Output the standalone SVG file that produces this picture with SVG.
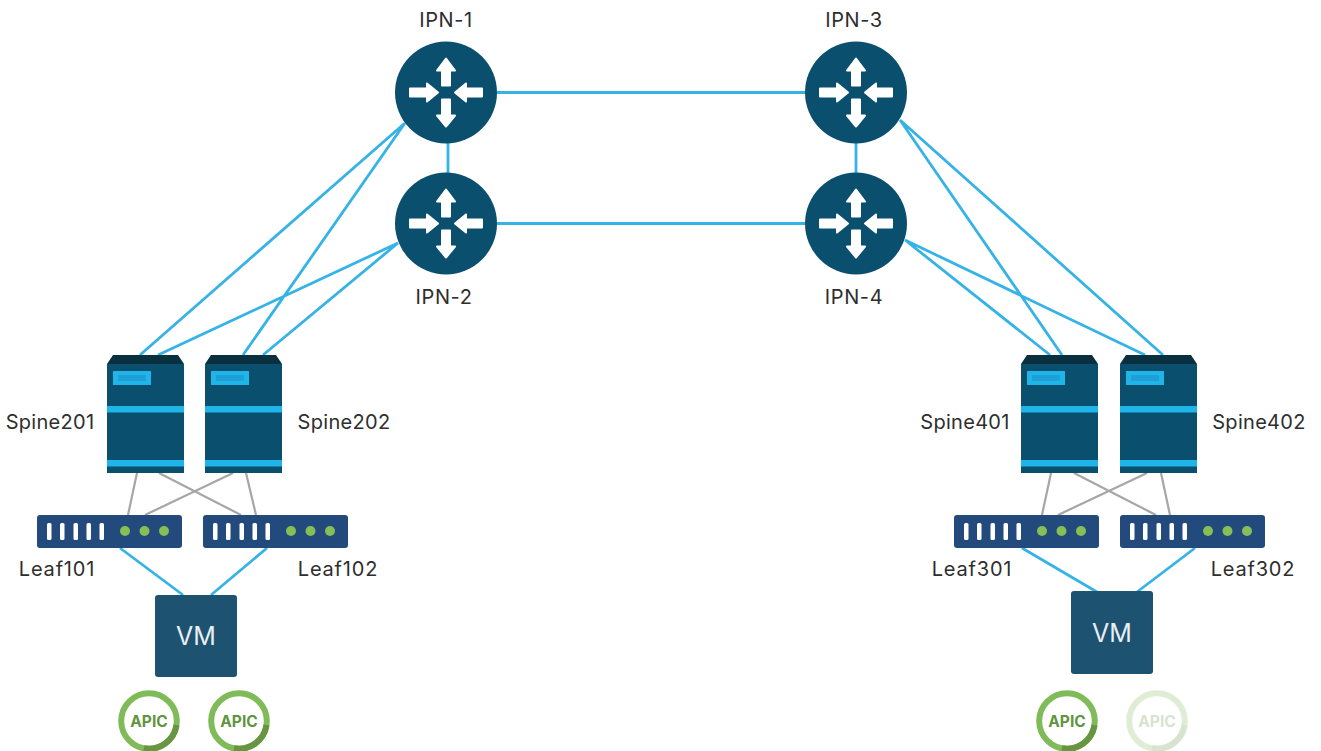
<svg xmlns="http://www.w3.org/2000/svg" width="1321" height="751" viewBox="0 0 1321 751">
<style>
text{font-family:"Inter","Liberation Sans",sans-serif;font-size:20px;fill:#2e2e2e;text-anchor:middle}
.ipn{letter-spacing:.6px}
.sp{letter-spacing:.3px}
.lf{letter-spacing:.8px}
.b{stroke:#36b3e6;stroke-width:2.8;fill:none}
.g{stroke:#a6a6a6;stroke-width:2.2;fill:none}
.vmt{fill:#e8eef2;font-size:25px}
.ap{font-size:15.500px;font-weight:700;fill:#5f9440}
.vm{fill:#1e5271}
.ar{fill:#fff;stroke:#fff;stroke-width:2;stroke-linejoin:round}
</style>
<defs>
<g id="router">
<circle r="51" fill="#0b4f6f"/>
<path class="ar" d="M-4 -7V-22H-9L0 -34L9 -22H4V-7Z"/>
<path class="ar" d="M-4 7V23H-9L0 34L9 23H4V7Z"/>
<path class="ar" d="M-36 -4H-19V-9L-8 0L-19 9V4H-36Z"/>
<path class="ar" d="M36 -4H20V-9L9 0L20 9V4H36Z"/>
</g>
<g id="spine">
<path d="M0 9L6 0H71L77 9Z" fill="#08303f"/>
<rect y="9" width="77" height="109" fill="#0b4f6f"/>
<rect x="6" y="16" width="38" height="14" fill="#1fb5e8"/>
<rect x="11" y="20" width="28" height="6" fill="#1e9fd6"/>
<rect y="51" width="77" height="6.500" fill="#1fb5e8"/>
<rect y="105" width="77" height="6.500" fill="#1fb5e8"/>
</g>
<g id="leaf">
<rect width="145" height="33" rx="3" fill="#234a7d"/>
<g fill="#fff"><rect x="10" y="8" width="4.500" height="17" rx="1.500"/><rect x="23" y="8" width="4.500" height="17" rx="1.500"/><rect x="36.500" y="8" width="4.500" height="17" rx="1.500"/><rect x="49.500" y="8" width="4.500" height="17" rx="1.500"/><rect x="62.500" y="8" width="4.500" height="17" rx="1.500"/></g>
<g fill="#86bf55"><circle cx="88" cy="16" r="5"/><circle cx="107.500" cy="16" r="5"/><circle cx="127" cy="16" r="5"/></g>
</g>
<g id="apic">
<circle r="27.800" fill="#fff" stroke="#80bb59" stroke-width="6"/>
<path d="M27.500 4A27.800 27.800 0 0 1 -5 27.300" fill="none" stroke="#679542" stroke-width="6"/>
<text y="5.500" class="ap">APIC</text>
</g>
</defs>
<rect width="1321" height="751" fill="#fff"/>
<g id="connectors">
<path class="b" d="M446 92.500H856M446 223.500H856M448 92V223M856 92V223"/>
<path class="b" d="M405 123L140 355M405 123L243 355M398 243L158 355M398 243L263 355"/>
<path class="b" d="M900 120L1062 355M900 120L1163 355M905 240L1050 355M905 240L1145 355"/>
<path class="g" d="M137 473L128 515M159 473L241 515M233 473L145 515M246 473L256 515"/>
<path class="g" d="M1051 473L1042 515M1074 473L1156 515M1147 473L1058 515M1161 473L1170 515"/>
<path class="b" d="M120 548L183 595M267 548L211 595M1022 548L1097 592M1195 548L1137 592"/>
</g>
<g id="ipn-1"><use href="#router" x="446" y="92.500"/><text class="ipn" x="446" y="27">IPN-1</text></g>
<g id="ipn-2"><use href="#router" x="446" y="223.500"/><text class="ipn" x="444" y="304">IPN-2</text></g>
<g id="ipn-3"><use href="#router" x="856" y="92.500"/><text class="ipn" x="854" y="27">IPN-3</text></g>
<g id="ipn-4"><use href="#router" x="856" y="223.500"/><text class="ipn" x="854" y="304">IPN-4</text></g>
<g id="spine201"><use href="#spine" x="107" y="355"/><text class="sp" x="50" y="429">Spine201</text></g>
<g id="spine202"><use href="#spine" x="205" y="355"/><text class="sp" x="344" y="429">Spine202</text></g>
<g id="spine401"><use href="#spine" x="1021" y="355"/><text class="sp" x="965" y="429">Spine401</text></g>
<g id="spine402"><use href="#spine" x="1120" y="355"/><text class="sp" x="1259" y="429">Spine402</text></g>
<g id="leaf101"><use href="#leaf" x="37" y="515"/><text class="lf" x="57" y="576">Leaf101</text></g>
<g id="leaf102"><use href="#leaf" x="203" y="515"/><text class="lf" x="338" y="576">Leaf102</text></g>
<g id="leaf301"><use href="#leaf" x="954" y="515"/><text class="lf" x="972" y="576">Leaf301</text></g>
<g id="leaf302"><use href="#leaf" x="1120" y="515"/><text class="lf" x="1253" y="576">Leaf302</text></g>
<g id="vm-1"><rect class="vm" x="155" y="595" width="82" height="82" rx="3"/><text class="vmt" x="196" y="645">VM</text></g>
<g id="vm-2"><rect class="vm" x="1071" y="591" width="82" height="83" rx="3"/><text class="vmt" x="1112" y="642">VM</text></g>
<g id="apic-1"><use href="#apic" x="149" y="721"/></g>
<g id="apic-2"><use href="#apic" x="239" y="721"/></g>
<g id="apic-3"><use href="#apic" x="1067" y="721"/></g>
<g id="apic-4"><use href="#apic" x="1157" y="721" opacity="0.25"/></g>
</svg>
